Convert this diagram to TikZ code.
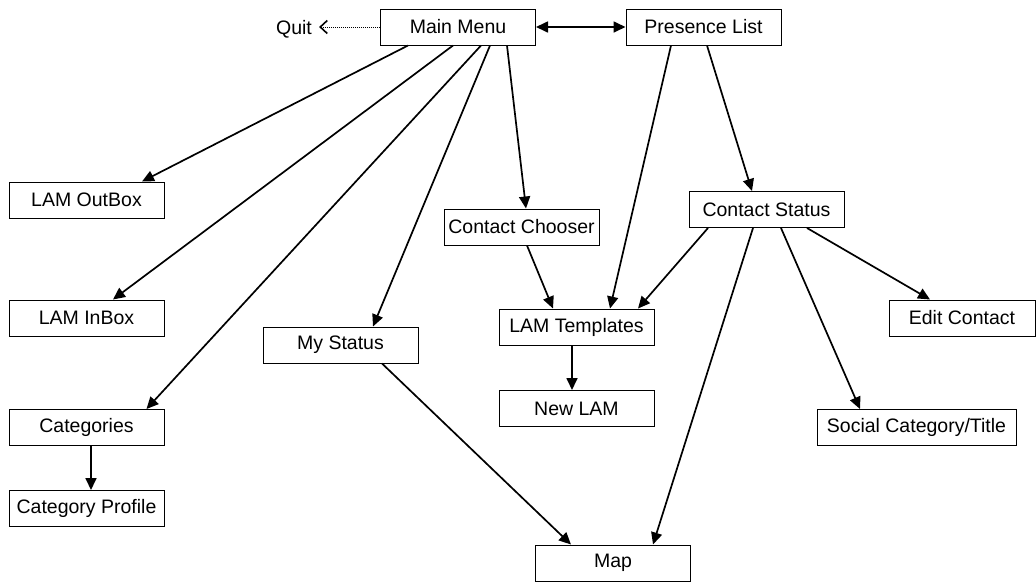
\documentclass[tikz,border=0pt]{standalone}
\usepackage{fontspec}
\setmainfont{Liberation Sans}
\usetikzlibrary{arrows.meta}
\begin{document}
\begin{tikzpicture}[x=1pt,y=-1pt,
  box/.style={draw, line width=1pt, minimum width=155pt, minimum height=36pt, inner sep=0pt, font=\fontsize{19.5}{22}\selectfont},
  lbl/.style={inner sep=0pt, font=\fontsize{19.5}{22}\selectfont},
  arr/.style={line width=1.7pt, -{Triangle[length=12pt,width=11pt]}},
  darr/.style={line width=1.7pt, {Triangle[length=12pt,width=11pt]}-{Triangle[length=12pt,width=11pt]}},
  qarr/.style={line width=1pt, densely dotted, -{Straight Barb[length=7pt,width=13pt,line width=1.6pt]}}]
\useasboundingbox (0,0) rectangle (1036,582);
\node[box] (mm) at (458,27) {Main Menu};
\node[box] (pl) at (703.5,27) {Presence List};
\node[lbl, anchor=base] (quit) at (294,34) {Quit};
\node[box] (outbox) at (86.5,200) {LAM OutBox};
\node[box] (inbox) at (86.5,318) {LAM InBox};
\node[box] (cat) at (86.5,427.5) {Categories};
\node[box] (catp) at (86.5,508.5) {Category Profile};
\node[box] (mys) at (340.5,345) {My Status};
\node[box] (ch) at (521.5,227) {Contact Chooser};
\node[box] (tpl) at (576.5,327) {LAM Templates};
\node[box] (nl) at (576.5,408.5) {New LAM};
\node[box] (cs) at (766.5,209.5) {Contact Status};
\node[box, minimum width=146pt] (ec) at (962,318) {Edit Contact};
\node[box, minimum width=199pt] (sc) at (916.5,427.5) {Social Category/Title};
\node[box] (map) at (613,563) {Map};

\draw[qarr, shorten >=7pt] (mm.west) -- (mm.west -| quit.east);
\draw[darr] (mm.east) -- (pl.west);
\draw[arr] ([xshift=-50pt]mm.south) -- ([xshift=55.5pt]outbox.north);
\draw[arr] ([xshift=-5pt]mm.south) -- ([xshift=26.5pt]inbox.north);
\draw[arr] ([xshift=23pt]mm.south) -- ([xshift=60pt]cat.north);
\draw[arr] ([xshift=32pt]mm.south) -- ([xshift=32.5pt]mys.north);
\draw[arr] ([xshift=49pt]mm.south) -- ([xshift=4.5pt]ch.north);
\draw[arr] ([xshift=-32.5pt]pl.south) -- ([xshift=33.5pt]tpl.north);
\draw[arr] ([xshift=3.5pt]pl.south) -- ([xshift=-14.5pt]cs.north);
\draw[arr] ([xshift=5.5pt]ch.south) -- ([xshift=-23.5pt]tpl.north);
\draw[arr] ([xshift=-58.5pt]cs.south) -- ([xshift=61.5pt]tpl.north);
\draw[arr] ([xshift=-13.5pt]cs.south) -- ([xshift=40pt]map.north);
\draw[arr] ([xshift=14.5pt]cs.south) -- ([xshift=-56.5pt]sc.north);
\draw[arr] ([xshift=40.5pt]cs.south) -- ([xshift=-32pt]ec.north);
\draw[arr] ([xshift=-4.5pt]tpl.south) -- ([xshift=-4.5pt]nl.north);
\draw[arr] ([xshift=4.5pt]cat.south) -- ([xshift=4.5pt]catp.north);
\draw[arr] ([xshift=41.5pt]mys.south) -- ([xshift=-42pt]map.north);
\end{tikzpicture}
\end{document}
